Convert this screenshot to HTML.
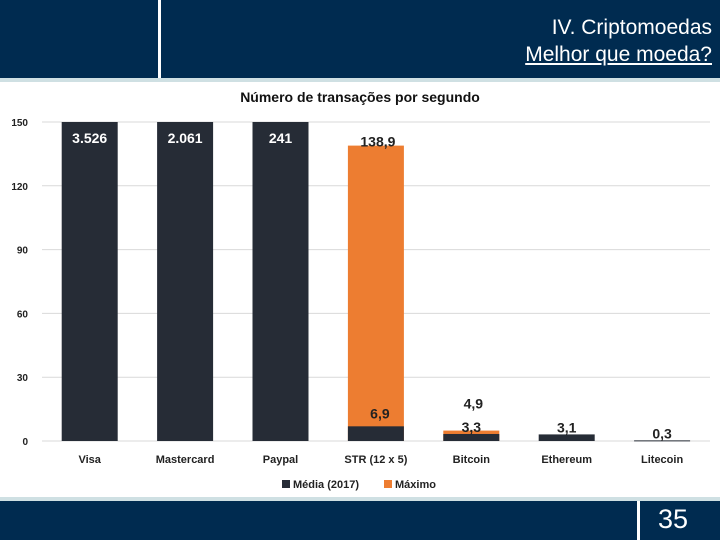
<!DOCTYPE html>
<html><head><meta charset="utf-8"><style>
body{margin:0;width:720px;height:540px;overflow:hidden;background:#fff;font-family:"Liberation Sans",sans-serif;position:relative}
.hdr{position:absolute;left:0;top:0;width:720px;height:78px;background:#002b50}
.strip{position:absolute;left:0;width:720px;height:4px;background:#cfe0e3}
.vl{position:absolute;background:#fff;width:3px}
</style></head><body>
<div class="hdr"></div>
<div class="vl" style="left:158px;top:0;height:78px"></div>
<div style="position:absolute;right:8px;top:14px;color:#fff;font-size:21px;text-align:right;line-height:27px">IV. Criptomoedas<br><span style="text-decoration:underline">Melhor que moeda?</span></div>
<div class="strip" style="top:78px"></div>
<div class="strip" style="top:497px"></div>
<div style="position:absolute;left:0;top:501px;width:720px;height:39px;background:#002b50"></div>
<div class="vl" style="left:637px;top:501px;height:39px"></div>
<div style="position:absolute;left:640px;top:504px;width:66px;text-align:center;color:#fff;font-size:27px">35</div>
<svg id="ch" width="720" height="410" style="position:absolute;left:0;top:82px"></svg>
<script>
const categories=["Visa","Mastercard","Paypal","STR (12 x 5)","Bitcoin","Ethereum","Litecoin"];
const mediaValues=[150,150,150,6.9,3.3,3.1,0.3];
const mediaLabels=["3.526","2.061","241","6,9","3,3","3,1","0,3"];
const maxValues=[null,null,null,138.9,4.9,null,null];
const maxLabels=[null,null,null,"138,9","4,9",null,null];
const ticks=[0,30,60,90,120,150];
const svg=document.getElementById('ch');
const NS='http://www.w3.org/2000/svg';
const OY=82;
const y=v=>441-OY-v*(319/150);
const x0=42,step=95.4;
const cx=i=>x0+step*(i+0.5);
const bw=56;
function el(t,a,txt){const e=document.createElementNS(NS,t);for(const k in a)e.setAttribute(k,a[k]);if(txt!=null)e.textContent=txt;svg.appendChild(e);return e;}
let t=el('text',{x:360,y:20,'text-anchor':'middle','font-size':14,'font-weight':'bold',fill:'#111'},'Número de transações por segundo');

ticks.forEach(v=>{
 let l=el('line',{x1:42,x2:710,y1:y(v),y2:y(v),stroke:'#d9d9d9','stroke-width':1});
 
 let tx=el('text',{x:28,y:y(v)+4,'text-anchor':'end','font-size':10,'font-weight':'bold',fill:'#222'},String(v));
 
});
categories.forEach((c,i)=>{
 if(maxValues[i]!=null){
  let r=el('rect',{x:cx(i)-bw/2,y:y(maxValues[i]),width:bw,height:y(0)-y(maxValues[i]),fill:'#ed7d31'});
  
 }
 let r=el('rect',{x:cx(i)-bw/2,y:y(mediaValues[i]),width:bw,height:Math.max(1,y(0)-y(mediaValues[i])),fill:'#262c36'});
 
 let lx=el('text',{x:cx(i),y:y(0)+22,'text-anchor':'middle','font-size':11,'font-weight':'bold',fill:'#222'},c);
 
 let lab;
 if(mediaValues[i]>=150){lab=el('text',{x:cx(i),y:y(150)+21,'text-anchor':'middle','font-size':14,'font-weight':'bold',fill:'#fff'},mediaLabels[i]);}
 else if(i===3){lab=el('text',{x:cx(i)+4,y:y(mediaValues[i])-8,'text-anchor':'middle','font-size':14,'font-weight':'bold',fill:'#222'},mediaLabels[i]);}
 else{lab=el('text',{x:cx(i),y:y(mediaValues[i])-2,'text-anchor':'middle','font-size':14,'font-weight':'bold',fill:'#222'},mediaLabels[i]);}
 
 if(maxLabels[i]!=null){
  const yy=i===4?y(maxValues[i])-22:y(maxValues[i])+1;
  let ml=el('text',{x:cx(i)+2,y:yy,'text-anchor':'middle','font-size':14,'font-weight':'bold',fill:'#222'},maxLabels[i]);
  
 }
});
let lg=[["#262c36","Média (2017)",282],["#ed7d31","Máximo",384]];
lg.forEach(g=>{
 let r=el('rect',{x:g[2],y:398,width:8,height:8,fill:g[0]});
 
 let tx=el('text',{x:g[2]+11,y:406,'font-size':11,'font-weight':'bold',fill:'#222'},g[1]);
 
});
</script>
</body></html>
